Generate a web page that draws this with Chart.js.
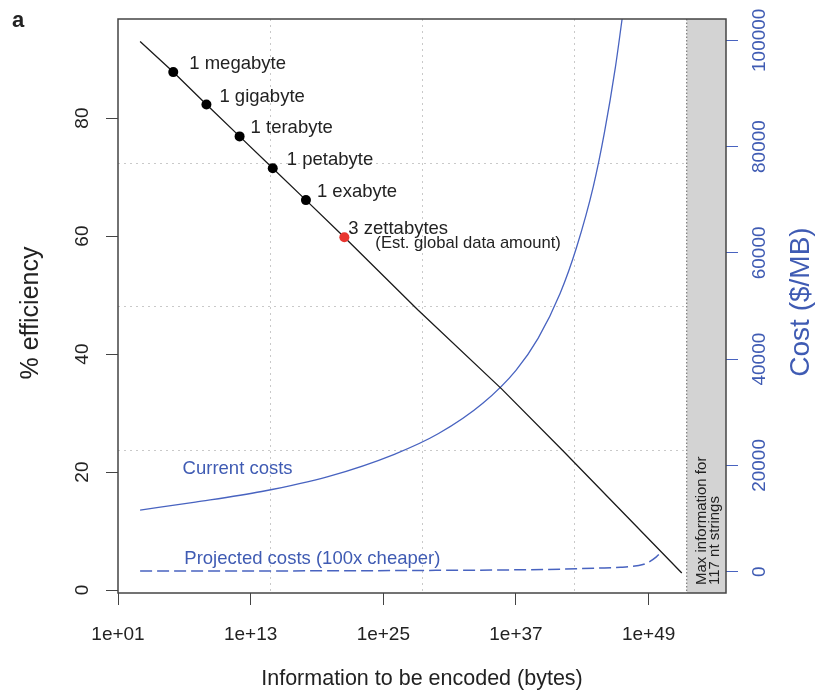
<!DOCTYPE html>
<html>
<head>
<meta charset="utf-8">
<script src="https://cdn.jsdelivr.net/npm/chart.js@4.4.0/dist/chart.umd.min.js"></script>
<style>
  html, body { margin: 0; background: #fff; }
  #wrap { width: 816px; height: 691px; }
</style>
</head>
<body>
<div id="wrap"><canvas id="chart" width="816" height="691"></canvas></div>
<script>
// axis ticks
const tickBytes = [1e1, 1e13, 1e25, 1e37, 1e49];
const effTicks = [0, 20, 40, 60, 80];
const costTicks = [0, 20000, 40000, 60000, 80000, 100000];

// % efficiency vs bytes encoded
const effBytes = [1e3, 1e6, 1e9, 1e12, 1e15, 1e18, 3e21, 1.3e28, 5e35, 1.6e41, 1e52];
const effPct = [93.0, 87.8, 82.3, 76.9, 71.5, 66.1, 59.8, 47.5, 34.1, 23.7, 2.9];

// labelled sizes
const markNames = ['1 megabyte', '1 gigabyte', '1 terabyte', '1 petabyte', '1 exabyte', '3 zettabytes'];
const markBytes = [1e6, 1e9, 1e12, 1e15, 1e18, 3e21];
const markPct = [87.8, 82.3, 76.9, 71.5, 66.1, 59.8];

// cost ($/MB), current
const costBytes = [1e3, 1e8, 1e14, 1e20, 1e26, 1e30, 1e34, 1e37, 1e39, 1e41, 3e42, 1e44, 1e45, 1e46, 4e46];
const costNow = [11600, 13100, 15100, 17900, 22100, 26000, 31700, 37900, 43900, 52400, 61000, 72500, 82600, 95000, 104000];

// cost ($/MB), projected (100x cheaper)
const projBytes = [1e3, 1e15, 1e22, 1e28, 1e36, 1e41, 4e44, 3e46, 3e47, 3e48, 1e49, 5e49, 1.4e50];
const projCost = [116, 150, 190, 240, 340, 480, 700, 850, 1000, 1350, 1800, 2800, 3700];

// max information for 117 nt strings
const maxInfoBytes = 2.8e52;

const FONT = '"Liberation Sans", Arial, Helvetica, sans-serif';
const BLUE = '#4863c0';
const BLUE_TXT = '#3f5bb3';
const INK = '#222';

const pts = (xs, ys) => xs.map((x, i) => ({ x: x, y: ys[i] }));

function vtext(ctx, txt, x, y, align) {
    ctx.save();
    ctx.translate(x, y);
    ctx.rotate(-Math.PI / 2);
    ctx.textAlign = align || 'center';
    ctx.textBaseline = 'middle';
    ctx.fillText(txt, 0, 0);
    ctx.restore();
}

const rStyle = {
    id: 'rStyle',
    beforeDatasetsDraw(chart) {
        const { ctx, chartArea: a, scales } = chart;
        ctx.save();
        // dotted grid, quarters of the panel
        ctx.strokeStyle = '#c9c9c9';
        ctx.lineWidth = 1;
        ctx.setLineDash([2, 4]);
        for (let i = 1; i < 4; i++) {
            const gx = Math.round(a.left + (a.right - a.left) * i / 4) + 0.5;
            const gy = Math.round(a.top + (a.bottom - a.top) * i / 4) + 0.5;
            ctx.beginPath(); ctx.moveTo(gx, a.top); ctx.lineTo(gx, a.bottom); ctx.stroke();
            ctx.beginPath(); ctx.moveTo(a.left, gy); ctx.lineTo(a.right, gy); ctx.stroke();
        }
        // shaded region beyond max information
        const mx = scales.x.getPixelForValue(maxInfoBytes);
        ctx.setLineDash([]);
        ctx.fillStyle = '#d3d3d3';
        ctx.fillRect(mx, a.top, a.right - mx, a.bottom - a.top);
        ctx.strokeStyle = '#666';
        ctx.setLineDash([1.5, 2]);
        ctx.beginPath(); ctx.moveTo(mx, a.top); ctx.lineTo(mx, a.bottom); ctx.stroke();
        ctx.restore();
    },
    afterDraw(chart) {
        const { ctx, chartArea: a, scales } = chart;
        ctx.save();
        // box
        ctx.strokeStyle = '#444';
        ctx.lineWidth = 1.5;
        ctx.strokeRect(a.left, a.top, a.right - a.left, a.bottom - a.top);

        // y tick labels (rotated, R style)
        ctx.font = '19px ' + FONT;
        ctx.fillStyle = INK;
        scales.y.ticks.forEach(t => vtext(ctx, String(t.value), 83, scales.y.getPixelForValue(t.value)));
        ctx.fillStyle = BLUE_TXT;
        scales.y2.ticks.forEach(t => vtext(ctx, String(t.value), 760, scales.y2.getPixelForValue(t.value)));

        // axis titles
        ctx.fillStyle = INK;
        ctx.font = '25px ' + FONT;
        vtext(ctx, '% efficiency', 31, 313);
        ctx.fillStyle = BLUE_TXT;
        ctx.font = '28px ' + FONT;
        vtext(ctx, 'Cost ($/MB)', 801, 302);
        ctx.fillStyle = INK;
        ctx.font = '21.5px ' + FONT;
        ctx.textAlign = 'center';
        ctx.textBaseline = 'middle';
        ctx.fillText('Information to be encoded (bytes)', (a.left + a.right) / 2, 679);

        // panel letter
        ctx.font = 'bold 22px ' + FONT;
        ctx.textAlign = 'left';
        ctx.fillText('a', 12, 21);

        // point labels
        const meta = chart.getDatasetMeta(0);
        const dx = [16, 13, 11, 14, 11, 4];
        ctx.font = '18.5px ' + FONT;
        ctx.textAlign = 'left';
        ctx.fillStyle = INK;
        meta.data.forEach((p, i) => {
            ctx.fillText(markNames[i], p.x + dx[i], p.y - 8);
        });
        const z = meta.data[meta.data.length - 1];
        ctx.font = '16.6px ' + FONT;
        ctx.fillText('(Est. global data amount)', z.x + 31, z.y + 6);

        // cost curve labels
        ctx.fillStyle = BLUE_TXT;
        ctx.font = '18.5px ' + FONT;
        ctx.fillText('Current costs', scales.x.getPixelForValue(7e6), scales.y2.getPixelForValue(19300));
        ctx.fillText('Projected costs (100x cheaper)', scales.x.getPixelForValue(1e7), scales.y2.getPixelForValue(2500));

        // shaded region note
        const mx = scales.x.getPixelForValue(maxInfoBytes);
        ctx.fillStyle = INK;
        ctx.font = '15px ' + FONT;
        vtext(ctx, 'Max information for', mx + 15, a.bottom - 8, 'left');
        vtext(ctx, '117 nt strings', mx + 28, a.bottom - 8, 'left');
        ctx.restore();
    }
};

const setTicks = list => scale => { scale.ticks = list.map(v => ({ value: v })); };

new Chart(document.getElementById('chart'), {
    type: 'line',
    data: {
        datasets: [{
            data: pts(markBytes, markPct),
            yAxisID: 'y',
            showLine: false,
            pointRadius: 5,
            pointBorderWidth: 0,
            pointBackgroundColor: markBytes.map((b, i) => i === markBytes.length - 1 ? '#e8352f' : '#000')
        }, {
            data: pts(effBytes, effPct),
            yAxisID: 'y',
            borderColor: '#1a1a1a',
            borderWidth: 1.3,
            pointRadius: 0,
            tension: 0
        }, {
            data: pts(costBytes, costNow),
            yAxisID: 'y2',
            borderColor: BLUE,
            borderWidth: 1.3,
            pointRadius: 0,
            cubicInterpolationMode: 'monotone'
        }, {
            data: pts(projBytes, projCost),
            yAxisID: 'y2',
            borderColor: BLUE,
            borderWidth: 1.5,
            borderDash: [12, 5],
            pointRadius: 0,
            cubicInterpolationMode: 'monotone'
        }]
    },
    options: {
        responsive: false,
        animation: false,
        devicePixelRatio: 1,
        layout: { padding: { top: 19, left: 0, right: 0, bottom: 0 } },
        plugins: { legend: { display: false }, tooltip: { enabled: false } },
        scales: {
            x: {
                type: 'logarithmic',
                min: 1e1,
                max: 1e56,
                afterBuildTicks: setTicks(tickBytes),
                afterFit: s => { s.height = 98; },
                border: { display: false },
                grid: { drawOnChartArea: false, drawTicks: true, tickLength: 12, color: '#444' },
                ticks: {
                    autoSkip: false,
                    maxRotation: 0,
                    padding: 18,
                    color: INK,
                    font: { family: FONT, size: 19 },
                    callback: v => '1e+' + String(Math.round(Math.log10(v))).padStart(2, '0')
                }
            },
            y: {
                position: 'left',
                min: -0.5,
                max: 96.8,
                afterBuildTicks: setTicks(effTicks),
                afterFit: s => { s.width = 118; },
                border: { display: false },
                grid: { drawOnChartArea: false, drawTicks: true, tickLength: 12, color: '#444' },
                ticks: { display: false }
            },
            y2: {
                position: 'right',
                min: -4000,
                max: 104000,
                afterBuildTicks: setTicks(costTicks),
                afterFit: s => { s.width = 90; },
                border: { display: false },
                grid: { drawOnChartArea: false, drawTicks: true, tickLength: 12, color: BLUE },
                ticks: { display: false }
            }
        }
    },
    plugins: [rStyle]
});
</script>
</body>
</html>
